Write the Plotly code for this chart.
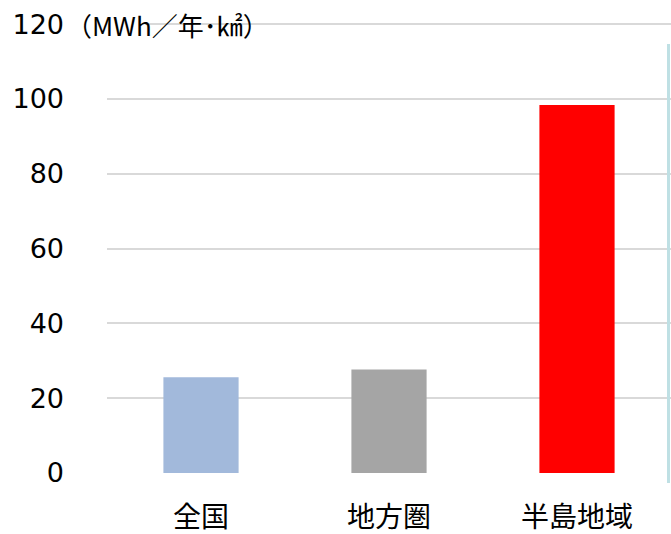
import plotly.graph_objects as go

categories = ["全国", "地方圏", "半島地域"]
values = [25.6, 27.7, 98.4]
colors = ["#A2B9DB", "#A5A5A5", "#FF0000"]
y_ticks = [0, 20, 40, 60, 80, 100, 120]
unit_label = "（MWh／年･㎢）"

fig = go.Figure()
fig.add_trace(go.Bar(x=categories, y=values, marker=dict(color=colors, line=dict(width=0)),
                     hoverinfo="x+y"))

W, H = 671, 534
ml, mr, mt, mb = 107, 0, 23, 61
pw, ph = W - ml - mr, H - mt - mb
fig.update_layout(
    width=W, height=H,
    margin=dict(l=ml, r=mr, t=mt, b=mb, pad=0),
    plot_bgcolor="white", paper_bgcolor="white",
    bargap=0.6,
    showlegend=False,
    xaxis=dict(showgrid=False, zeroline=False, showline=False, ticks="", automargin=False,
               tickfont=dict(family="Noto Sans CJK JP", size=28, color="#000000"),
               ticklabelstandoff=25),
    yaxis=dict(range=[0, 120.3], tickvals=y_ticks, showgrid=True, gridcolor="#D9D9D9",
               gridwidth=1.5, zeroline=False, showline=False, ticks="", automargin=False,
               tickfont=dict(family="DejaVu Sans", size=27, color="#000000"),
               ticklabelstandoff=42),
)
# white patch hiding the start of the top gridline, as in the reference
fig.add_shape(type="rect", xref="paper", yref="y", x0=0, x1=(145 - ml) / pw, y0=119, y1=121,
              fillcolor="white", line=dict(width=0), layer="above")
fig.add_annotation(text=unit_label, xref="paper", yref="y", x=(64 - ml) / pw, y=120,
                   xanchor="left", yanchor="middle", showarrow=False,
                   font=dict(family="Noto Sans CJK JP", size=26, color="#000000"))
fig.add_shape(type="line", xref="paper", yref="paper",
              x0=(668.5 - ml) / pw, x1=(668.5 - ml) / pw,
              y0=(H - mb - 44) / ph, y1=(H - mb - 483) / ph,
              line=dict(color="#BFE0E4", width=3))
fig.write_html("out.html", config={"displayModeBar": False},
               post_script="document.body.style.margin='0';document.body.style.overflow='hidden';")
